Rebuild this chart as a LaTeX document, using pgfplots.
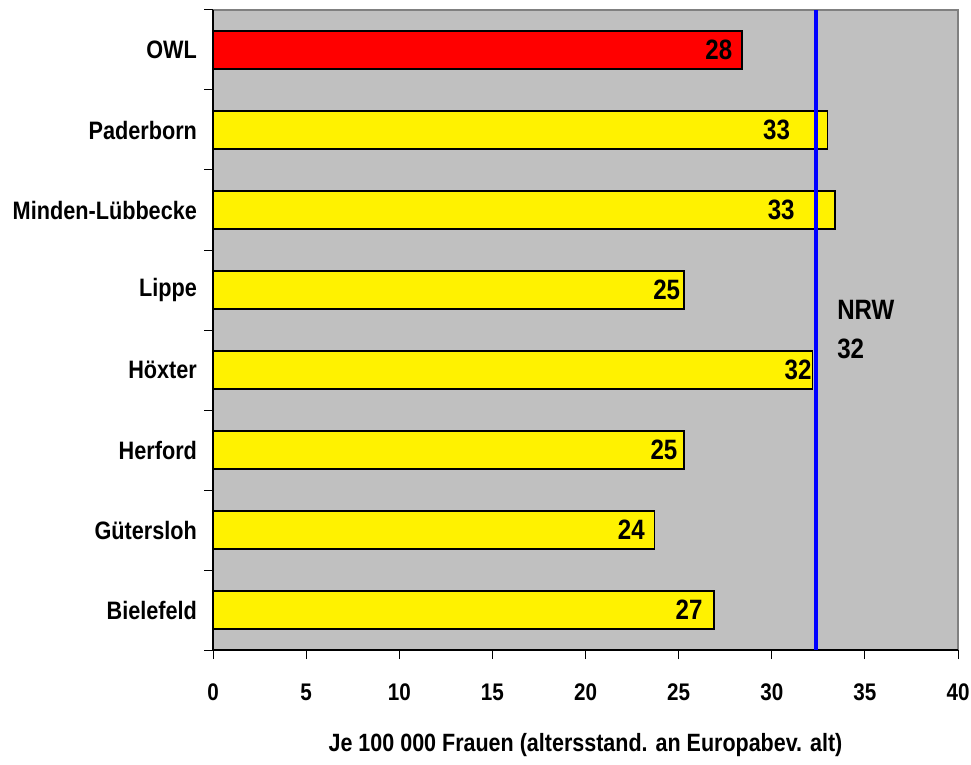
\documentclass[border=0pt]{standalone}
\usepackage{fontspec}
\setmainfont{Liberation Sans}[FakeStretch=0.86]
\usepackage{pgfplots}
\pgfplotsset{compat=1.18}
\definecolor{plotgray}{RGB}{192,192,192}
\definecolor{framegray}{RGB}{128,128,128}
\definecolor{nrwblue}{RGB}{0,0,255}
\begin{document}
\begin{tikzpicture}
\begin{axis}[
  scale only axis, width=372.5pt, height=320pt,
  xmin=0, xmax=40, ymin=-0.5, ymax=7.5,
  xtick={0,5,...,40},
  ytick={0,...,7},
  yticklabels={Bielefeld,Gütersloh,Herford,Höxter,Lippe,Minden-Lübbecke,Paderborn,OWL},
  minor ytick={-0.5,0.5,...,7.5},
  major y tick style={draw=none},
  minor y tick style={black, line width=0.5pt},
  major x tick style={black, line width=0.5pt},
  minor tick length=4.5pt, major tick length=4.5pt,
  tick align=outside,
  axis x line*=bottom, axis y line*=left,
  axis line style={black, line width=0.6pt},
  axis background/.style={fill=plotgray, draw=framegray, line width=0.6pt},
  tick label style={font=\bfseries\fontsize{12}{14}\selectfont},
  /pgf/number format/assume math mode=true,
  yticklabel style={xshift=0pt, font=\bfseries\fontsize{12.6}{14}\selectfont},
  xticklabel style={yshift=-9pt},
  xlabel={Je 100 000 Frauen (altersstand. an Europabev. alt)},
  xlabel style={font=\bfseries\fontsize{12.5}{14}\selectfont, at={(axis description cs:0.5,-0.148)}, anchor=center},
  clip=false,
]
% Kreise
\addplot[xbar, bar shift=0pt, bar width=19pt, fill=yellow, draw=black, line width=0.75pt]
  coordinates {(26.9,0) (23.7,1) (25.3,2) (32.2,3) (25.3,4) (33.4,5) (33.0,6)};
% OWL gesamt
\addplot[xbar, bar shift=0pt, bar width=19pt, fill=red, draw=black, line width=0.75pt]
  coordinates {(28.4,7)};
% Werte an den Balken
\addplot[draw=none, mark=none, nodes near coords, point meta=explicit symbolic,
  every node near coord/.style={anchor=east, inner sep=0pt, font=\bfseries\fontsize{14}{16}\selectfont}]
  coordinates {(26.3,0)[27] (23.2,1)[24] (24.95,2)[25] (32.15,3)[32] (25.1,4)[25] (31.25,5)[33] (31.0,6)[33] (27.9,7)[28]};
% NRW
\addplot[nrwblue, line width=2pt] coordinates {(32.35,-0.5) (32.35,7.5)};
\addplot[draw=none, mark=none, nodes near coords, point meta=explicit symbolic,
  every node near coord/.style={anchor=west, inner sep=0pt, font=\bfseries\fontsize{14}{16}\selectfont}]
  coordinates {(33.5,3.75)[NRW] (33.5,3.27)[32]};
\end{axis}
\pgfresetboundingbox
\path ([shift={(-106.5pt,-57pt)}]current axis.south west) rectangle ([shift={(6.5pt,5pt)}]current axis.north east);
\end{tikzpicture}
\end{document}
